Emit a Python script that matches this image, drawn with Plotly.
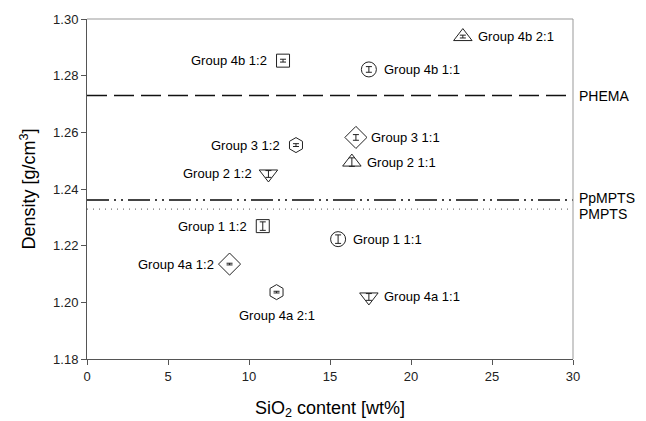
import plotly.graph_objects as go

# Data
labels = ["Group 4b 1:2", "Group 4b 1:1", "Group 4b 2:1", "Group 3 1:2", "Group 3 1:1",
          "Group 2 1:1", "Group 2 1:2", "Group 1 1:2", "Group 1 1:1", "Group 4a 1:2",
          "Group 4a 2:1", "Group 4a 1:1"]
sio2 = [12.1, 17.4, 23.2, 12.9, 16.6, 16.35, 11.2, 10.85, 15.5, 8.8, 11.7, 17.4]
density = [1.2853, 1.2822, 1.2938, 1.2555, 1.2582, 1.2495, 1.2453, 1.2269, 1.2223, 1.2135, 1.2036, 1.2019]
density_err = [0.0005, 0.0010, 0.0005, 0.0005, 0.0010, 0.0015, 0.0012, 0.0015, 0.0015, 0.0003, 0.0003, 0.0012]
symbols = ["square-open", "circle-open", "triangle-up-open", "hexagon-open", "diamond-open",
           "triangle-up-open", "triangle-down-open", "square-open", "circle-open", "diamond-open",
           "hexagon-open", "triangle-down-open"]
marker_sizes = [13, 15, 16, 15, 17, 16, 16, 13, 15, 17, 15, 16]
label_side = ["left", "right", "right", "left", "right", "right", "left", "left", "right", "left",
              "below", "right"]

ref_names = ["PHEMA", "PpMPTS", "PMPTS"]
ref_values = [1.273, 1.2361, 1.2329]

x_ticks = [0, 5, 10, 15, 20, 25, 30]
y_ticks = [1.18, 1.20, 1.22, 1.24, 1.26, 1.28, 1.30]

fig = go.Figure()

# reference lines
ref_styles = [
    dict(color="#111111", width=1.3, dash="20px,7px"),
    dict(color="#444444", width=2, dash="22px,5px,2px,5px,2px,5px"),
    dict(color="#777777", width=1.2, dash="1px,5px"),
]
for name, val, st in zip(ref_names, ref_values, ref_styles):
    fig.add_trace(go.Scatter(x=[x_ticks[0], x_ticks[-1]], y=[val, val], mode="lines",
                             line=st, showlegend=False, hoverinfo="skip"))

for lab, xv, yv, er, sym, ms in zip(labels, sio2, density, density_err, symbols, marker_sizes):
    fig.add_trace(go.Scatter(
        x=[xv], y=[yv], mode="markers", showlegend=False,
        marker=dict(symbol=sym, size=ms, color="#222222", line=dict(width=1, color="#222222")),
        error_y=dict(type="data", array=[er], visible=True, color="#222222", thickness=1, width=3),
    ))

font_main = "Liberation Sans, Arial, sans-serif"
for lab, xv, yv, side in zip(labels, sio2, density, label_side):
    if side == "left":
        fig.add_annotation(x=xv, y=yv, text=lab, showarrow=False, xanchor="right", xshift=-14,
                           font=dict(size=13, color="black", family=font_main))
    elif side == "right":
        fig.add_annotation(x=xv, y=yv, text=lab, showarrow=False, xanchor="left", xshift=13,
                           font=dict(size=13, color="black", family=font_main))
    else:
        fig.add_annotation(x=xv, y=yv, text=lab, showarrow=False, xanchor="center", yshift=-23,
                           font=dict(size=13, color="black", family=font_main))

for name, val in zip(ref_names, ref_values):
    yshift = 0
    if name == "PpMPTS":
        yshift = 2
    if name == "PMPTS":
        yshift = -5
    fig.add_annotation(x=1, xref="paper", y=val, text=name, showarrow=False, xanchor="left",
                       xshift=4, yshift=yshift, font=dict(size=14, color="black", family=font_main))

# top and right frame
fig.add_shape(type="line", xref="paper", yref="paper", x0=0, x1=1, y0=1, y1=1,
              line=dict(color="#999999", width=1))
fig.add_shape(type="line", xref="paper", yref="paper", x0=1, x1=1, y0=0, y1=1,
              line=dict(color="#999999", width=1))

fig.update_layout(
    width=638, height=413,
    margin=dict(l=79, r=73, t=11, b=62, autoexpand=False),
    paper_bgcolor="white", plot_bgcolor="white",
    font=dict(family=font_main, color="black"),
    showlegend=False,
)
fig.update_xaxes(range=[0, 30], tickvals=x_ticks, ticktext=[str(v) for v in x_ticks],
                 ticks="outside", ticklen=5, tickcolor="#555555",
                 showline=True, linecolor="#555555", linewidth=1, showgrid=False, zeroline=False,
                 tickfont=dict(size=13, color="#222222"), automargin=False,
                 title=dict(text="SiO<sub>2</sub> content [wt%]", font=dict(size=18), standoff=18))
fig.update_yaxes(range=[1.18, 1.30], tickvals=y_ticks, ticktext=[f"{v:.2f}" for v in y_ticks],
                 ticks="outside", ticklen=5, tickcolor="#555555",
                 showline=True, linecolor="#555555", linewidth=1, showgrid=False, zeroline=False,
                 tickfont=dict(size=13, color="#222222"), automargin=False,
                 title=dict(text="Density [g/cm<sup>3</sup>]", font=dict(size=18), standoff=12))

fig.write_html("out.html")
